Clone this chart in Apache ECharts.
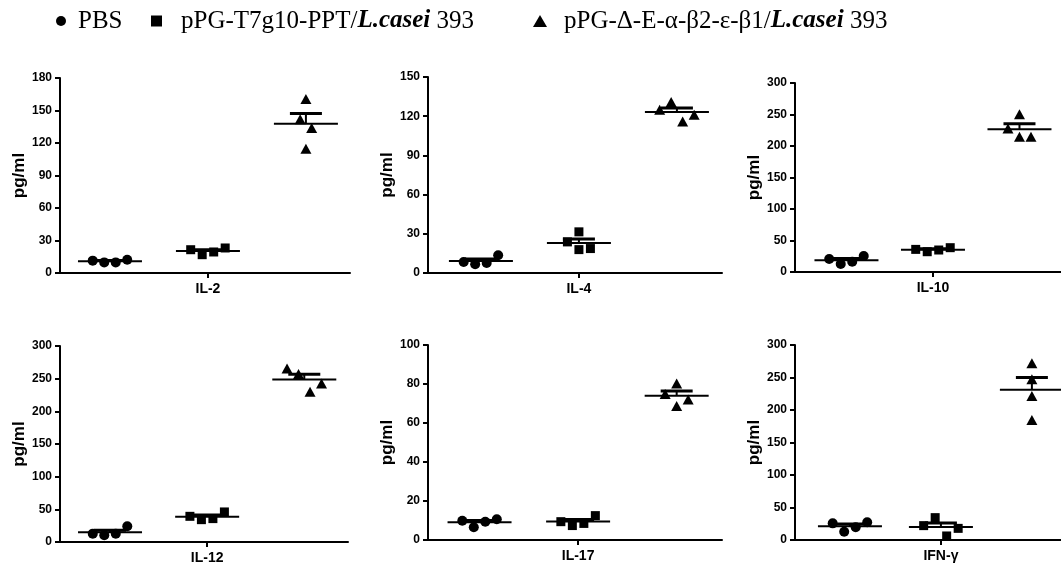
<!DOCTYPE html>
<html><head><meta charset="utf-8">
<script src="https://cdn.jsdelivr.net/npm/echarts@6/dist/echarts.min.js"></script>
<style>html,body{margin:0;padding:0;background:#fff}#c{width:1061px;height:569px}</style>
</head><body><div id="c"></div>
<script>
// ---- data ----
const categories = ['IL-2', 'IL-4', 'IL-10', 'IL-12', 'IL-17', 'IFN-γ'];
const groupNames = ['PBS', 'pPG-T7g10-PPT/L.casei 393', 'pPG-Δ-E-α-β2-ε-β1/L.casei 393'];
const yMax = [180, 150, 300, 300, 100, 300];
const yInterval = [30, 30, 50, 50, 20, 50];
const pbsValues = [
  [11.4, 9.8, 9.8, 12.3],
  [8.4, 6.7, 7.7, 13.6],
  [20.6, 12.7, 16.4, 25.4],
  [12.8, 10.2, 12.8, 24.0],
  [9.9, 6.5, 9.4, 10.6],
  [25.6, 12.8, 19.5, 27.2]
];
const t7Values = [
  [21.5, 16.9, 19.4, 23.1],
  [23.8, 31.5, 17.9, 18.7],
  [35.9, 32.2, 34.9, 38.6],
  [39.3, 34.2, 35.8, 46.0],
  [9.4, 7.4, 8.5, 12.5],
  [22.1, 34.4, 6.2, 17.9]
];
const deltaValues = [
  [142.0, 160.6, 133.8, 114.8],
  [124.9, 130.8, 115.9, 121.1],
  [227.7, 250.4, 214.5, 214.5],
  [265.7, 257.0, 230.0, 242.7],
  [80.3, 74.9, 68.7, 72.1],
  [271.8, 247.2, 221.5, 184.6]
];

// ---- layout ----
const panels = [
  {left: 60,  top: 78,  width: 290, height: 195, xMin: -0.51, xMax: 2.45},
  {left: 428, top: 77,  width: 294, height: 196, xMin: -0.54, xMax: 2.46},
  {left: 795, top: 83,  width: 266, height: 189, xMin: -0.595, xMax: 2.48},
  {left: 60,  top: 346, width: 288, height: 196, xMin: -0.515, xMax: 2.45},
  {left: 428, top: 345, width: 294, height: 195, xMin: -0.523, xMax: 2.46},
  {left: 795, top: 345, width: 266, height: 195, xMin: -0.604, xMax: 2.32}
];
const symbols = ['circle', 'rect', 'triangle'];
const symbolSizes = [10, 9, [11, 10]];
const SANS = '"Liberation Sans", Arial, sans-serif';
const SERIF = '"Liberation Serif", "Times New Roman", serif';

function swarm(values, pxPerY, threshold) {
  const idx = values.map((v, i) => i).sort((a, b) => values[a] - values[b]);
  const clusters = [];
  let cur = [idx[0]];
  for (let k = 1; k < idx.length; k++) {
    if ((values[idx[k]] - values[idx[k - 1]]) * pxPerY < threshold) cur.push(idx[k]);
    else { clusters.push(cur); cur = [idx[k]]; }
  }
  clusters.push(cur);
  const off = new Array(values.length).fill(0);
  clusters.forEach(c => { c.sort((a, b) => a - b); c.forEach((i, j) => { off[i] = j - (c.length - 1) / 2; }); });
  return off;
}
function meanSem(v) {
  const n = v.length, m = v.reduce((a, b) => a + b, 0) / n;
  const sd = Math.sqrt(v.reduce((a, b) => a + (b - m) * (b - m), 0) / (n - 1));
  return [m, sd / Math.sqrt(n)];
}

const grid = [], xAxis = [], yAxis = [], series = [];
panels.forEach((p, k) => {
  grid.push({left: p.left, top: p.top, width: p.width, height: p.height, containLabel: false});
  xAxis.push({
    type: 'value', gridIndex: k, min: p.xMin, max: p.xMax,
    splitLine: {show: false},
    axisLine: {onZero: false, lineStyle: {color: '#000', width: 2}},
    axisTick: {show: true, customValues: [1], length: 5, lineStyle: {color: '#000', width: 2}},
    axisLabel: {customValues: [1], formatter: () => categories[k], margin: 9,
      color: '#000', fontFamily: SANS, fontWeight: 'bold', fontSize: 14}
  });
  yAxis.push({
    type: 'value', gridIndex: k, min: 0, max: yMax[k], interval: yInterval[k],
    name: 'pg/ml', nameLocation: 'middle', nameGap: 31,
    nameTextStyle: {color: '#000', fontFamily: SANS, fontWeight: 'bold', fontSize: 17},
    splitLine: {show: false},
    axisLine: {show: true, onZero: false, lineStyle: {color: '#000', width: 2}},
    axisTick: {show: true, length: 5, lineStyle: {color: '#000', width: 2}},
    axisLabel: {color: '#000', fontFamily: SANS, fontWeight: 'bold', fontSize: 12, margin: 8}
  });
  const pxPerY = p.height / yMax[k];
  const pxPerX = p.width / (p.xMax - p.xMin);
  const stepX = 11.5 / pxPerX;
  const groups = [pbsValues[k], t7Values[k], deltaValues[k]];
  const stats = [];
  groups.forEach((vals, g) => {
    const off = swarm(vals, pxPerY, 10);
    series.push({
      type: 'scatter', name: groupNames[g], xAxisIndex: k, yAxisIndex: k,
      symbol: symbols[g], symbolSize: symbolSizes[g],
      itemStyle: {color: '#000', opacity: 1}, silent: true, z: 3,
      data: vals.map((v, i) => [g + off[i] * stepX, v])
    });
    const ms = meanSem(vals);
    stats.push([g, ms[0], ms[1]]);
  });
  series.push({
    type: 'custom', name: 'mean', xAxisIndex: k, yAxisIndex: k, clip: false, silent: true, z: 2,
    data: stats,
    renderItem: (params, api) => {
      const x = api.value(0), m = api.value(1), s = api.value(2);
      const pm = api.coord([x, m]), pt = api.coord([x, m + s]);
      return {type: 'group', children: [
        {type: 'line', shape: {x1: pm[0] - 32, y1: pm[1], x2: pm[0] + 32, y2: pm[1]}, style: {stroke: '#000', lineWidth: 2}},
        {type: 'line', shape: {x1: pm[0], y1: pm[1], x2: pt[0], y2: pt[1]}, style: {stroke: '#000', lineWidth: 2}},
        {type: 'line', shape: {x1: pt[0] - 16, y1: pt[1], x2: pt[0] + 16, y2: pt[1]}, style: {stroke: '#000', lineWidth: 3}}
      ]};
    }
  });
});

const legendLeft = [56, 151, 533];
const legendPad = [7, 14, 12];
const legendIcons = ['circle', 'rect', 'triangle'];
const legendSizes = [[10, 10], [11, 11], [14, 12]];
const legend = groupNames.map((n, g) => ({
  data: [{name: n, icon: legendIcons[g], itemStyle: {color: '#000', opacity: 1}}],
  left: legendLeft[g], top: 8, padding: 0,
  itemWidth: legendSizes[g][0], itemHeight: legendSizes[g][1],
  selectedMode: false,
  formatter: name => {
    const i = name.indexOf('L.casei');
    if (i < 0) return '{n|' + name + '}';
    return '{n|' + name.slice(0, i) + '}{b|L.casei}{n|' + name.slice(i + 7) + '}';
  },
  textStyle: {
    color: '#000', fontFamily: SERIF, fontSize: 25, lineHeight: 26, padding: [0, 0, 0, legendPad[g]],
    rich: {
      n: {fontFamily: SERIF, fontSize: 25, color: '#000'},
      b: {fontFamily: SERIF, fontSize: 25, color: '#000', fontWeight: 'bold', fontStyle: 'italic'}
    }
  }
}));

const chart = echarts.init(document.getElementById('c'), null, {renderer: 'canvas'});
chart.setOption({
  animation: false, backgroundColor: '#fff',
  legend, grid, xAxis, yAxis, series
});
</script></body></html>
